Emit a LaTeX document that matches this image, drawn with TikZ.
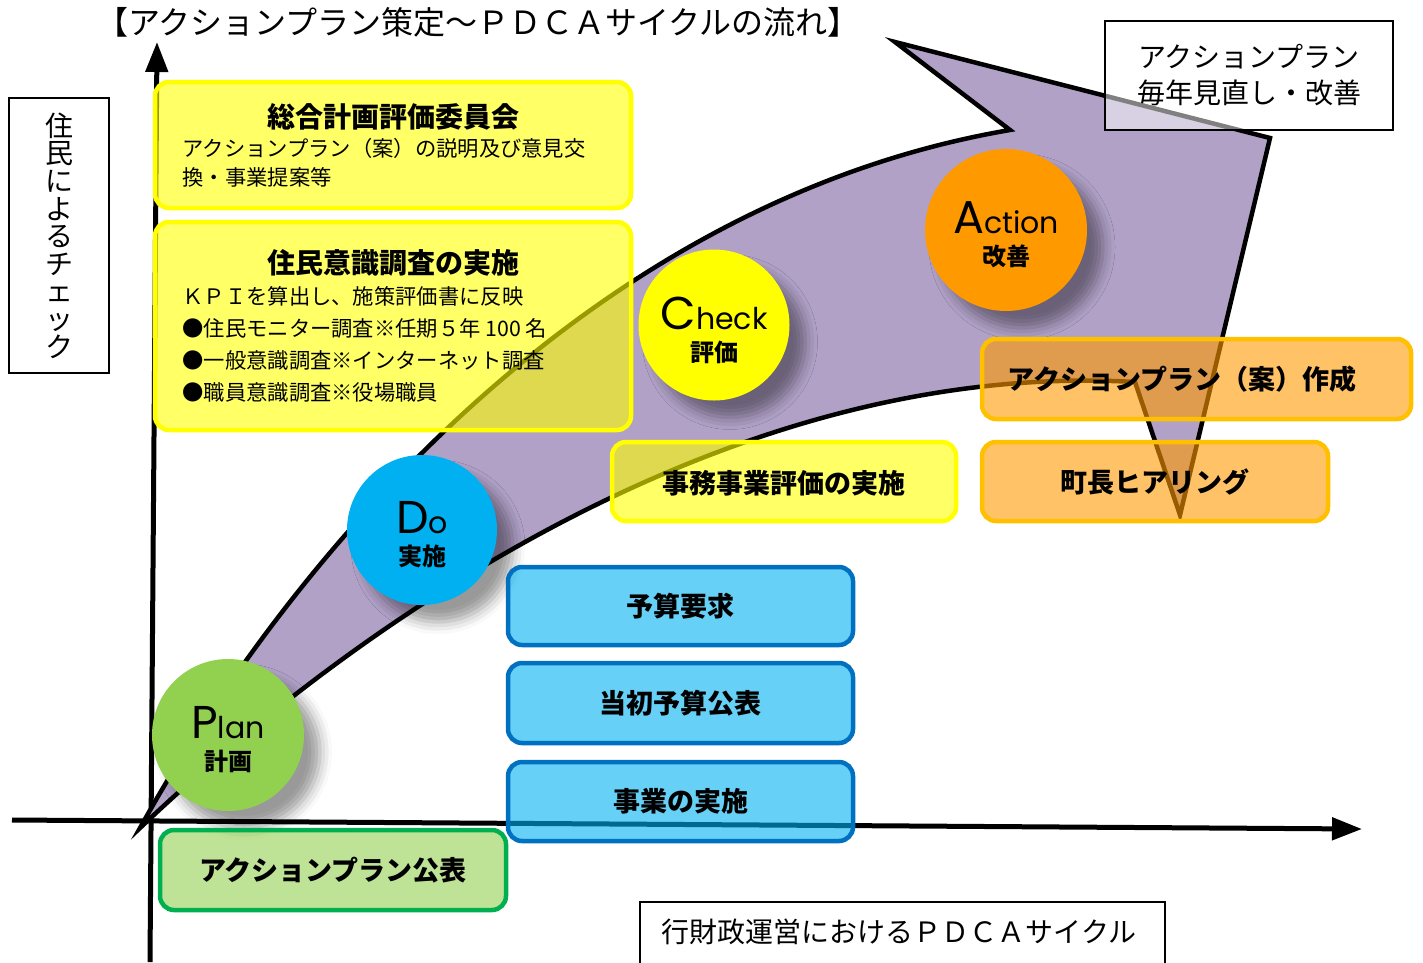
\documentclass[tikz,border=0pt]{standalone}
\usepackage{fontspec}
\setmainfont{Noto Sans CJK JP}
\newfontfamily\pop{Poppins}
\usetikzlibrary{shadows.blur,arrows.meta}
\definecolor{arrowfill}{RGB}{177,161,199}
\definecolor{cgreen}{RGB}{146,208,80}
\definecolor{cblue}{RGB}{0,176,240}
\definecolor{cyellow}{RGB}{255,255,0}
\definecolor{corange}{RGB}{255,153,0}
\definecolor{bgreen}{RGB}{0,176,80}
\definecolor{bblue}{RGB}{0,112,192}
\definecolor{borange}{RGB}{255,192,0}
\newcommand\bigsm[2]{{\pop\fontsize{46}{46}\selectfont #1\fontsize{30}{30}\selectfont #2}}
\begin{document}
\begin{tikzpicture}[x=1pt,y=-1pt,
  axisline/.style={line width=5pt,-{Triangle[length=30pt,width=22pt]}},
  circ/.style={circle,inner sep=0pt,
    blur shadow={shadow xshift=16pt,shadow yshift=-17pt,shadow blur radius=12pt,shadow opacity=40}},
  ctext/.style={align=center,font=\fontsize{24}{32}\selectfont},
  rbox/.style={rounded corners=14pt,line width=4.5pt,fill opacity=0.6,draw opacity=1,text opacity=1,inner sep=0pt},
  ybox/.style={rbox,draw=cyellow,fill=cyellow},
  obox/.style={rbox,draw=borange,fill=corange},
  bbox/.style={rbox,draw=bblue,fill=cblue},
  gbox/.style={rbox,draw=bgreen,fill=cgreen},
  plainbox/.style={draw=black,line width=2pt,inner sep=0pt},
  boxtxt/.style={font=\bfseries\fontsize{27}{30}\selectfont},
  subtxt/.style={anchor=west,font=\fontsize{21.3}{24}\selectfont},
  ttltxt/.style={font=\bfseries\fontsize{28}{30}\selectfont}]
\useasboundingbox (0,0) rectangle (1423,962);
% axes
\coordinate (yb) at (150,962);
\coordinate (yt) at (157,42);
\coordinate (xb) at (12,820);
\coordinate (xt) at (1362,829);
\draw[axisline] (yb) -- (yt);
\draw[axisline] (xb) -- (xt);
% big arrow
\coordinate (O) at (140,828);
\coordinate (N1) at (1010,130);
\coordinate (T1) at (895,42);
\coordinate (T2) at (1270,138);
\coordinate (T3) at (1180,515);
\coordinate (N2) at (1135,382);
\draw[line width=4.5pt,fill=arrowfill,line join=miter]
  (O) .. controls (300,540) and (600,200) .. (N1) -- (T1) -- (T2) -- (T3) -- (N2)
  .. controls (750,360) and (380,600) .. (O) -- cycle;
% circles
\node[circ,fill=cgreen,minimum size=152pt] (plan) at (228,735) {};
\node[circ,fill=cblue,minimum size=150pt] (do) at (422,530) {};
\node[circ,fill=cyellow,minimum size=151pt] (check) at (714,325) {};
\node[circ,fill=corange,minimum size=162pt] (action) at (1006,230) {};
\node[ctext] (plant) at (228,740) {\bigsm{P}{lan}\\{\bfseries 計画}};
\node[ctext] (dot) at (422,535) {\bigsm{D}{o}\\{\bfseries 実施}};
\node[ctext] (checkt) at (714,330) {\bigsm{C}{heck}\\{\bfseries 評価}};
\node[ctext] (actiont) at (1006,235) {\bigsm{A}{ction}\\{\bfseries 改善}};
% yellow boxes
\node[ybox,minimum width=476pt,minimum height=126pt] (y1) at (393,145) {};
\node[ttltxt] (y1t) at (393,117) {総合計画評価委員会};
\node[subtxt] (y1a) at (179,148) {アクションプラン（案）の説明及び意見交};
\node[subtxt] (y1b) at (179,177) {換・事業提案等};
\node[ybox,minimum width=476pt,minimum height=208pt] (y2) at (393,326) {};
\node[ttltxt] (y2t) at (393,263) {住民意識調査の実施};
\node[subtxt] (y2a) at (179,296) {ＫＰＩを算出し、施策評価書に反映};
\node[subtxt] (y2b) at (179,328) {●住民モニター調査※任期５年 100 名};
\node[subtxt] (y2c) at (179,360) {●一般意識調査※インターネット調査};
\node[subtxt] (y2d) at (179,392) {●職員意識調査※役場職員};
\node[ybox,minimum width=344pt,minimum height=79pt] (jimu) at (784,481.5) {};
\node[boxtxt] (jimut) at (784,483) {事務事業評価の実施};
% orange boxes
\node[obox,minimum width=429pt,minimum height=80pt] (o1) at (1196.5,379) {};
\node[boxtxt,anchor=west] (o1t) at (1004,379) {アクションプラン（案）作成};
\node[obox,minimum width=346pt,minimum height=79pt] (o2) at (1155,481.5) {};
\node[boxtxt] (o2t) at (1155,482) {町長ヒアリング};
% blue boxes
\node[bbox,minimum width=345pt,minimum height=78pt] (b1) at (680.5,606) {};
\node[boxtxt] (b1t) at (680.5,606) {予算要求};
\node[bbox,minimum width=345pt,minimum height=80pt] (b2) at (680.5,703) {};
\node[boxtxt] (b2t) at (680.5,703) {当初予算公表};
\node[bbox,minimum width=345pt,minimum height=79pt] (b3) at (680.5,801.5) {};
\node[boxtxt] (b3t) at (680.5,801) {事業の実施};
% green box
\node[gbox,minimum width=346pt,minimum height=80pt] (g1) at (333,870) {};
\node[boxtxt] (g1t) at (333,870) {アクションプラン公表};
% plain boxes
\node[plainbox,fill=white,minimum width=100pt,minimum height=275pt,align=center,
  font=\fontsize{28}{27.6}\selectfont] (left) at (59,235.5)
  {住\\民\\に\\よ\\る\\チ\\ェ\\ッ\\ク};
\node[plainbox,fill=white,fill opacity=0.5,text opacity=1,minimum width=288pt,minimum height=109pt,
  align=center,font=\fontsize{28}{36}\selectfont] (tr) at (1249,75.5)
  {アクションプラン\\毎年見直し・改善};
\node[plainbox,fill=white,minimum width=525pt,minimum height=90pt] (bot) at (902.5,947) {};
\node[font=\fontsize{28}{30}\selectfont] (bott) at (899,932) {行財政運営におけるＰＤＣＡサイクル};
% title
\node[font=\fontsize{32}{34}\selectfont] (title) at (478,22) {【アクションプラン策定～ＰＤＣＡサイクルの流れ】};
\end{tikzpicture}
\end{document}
